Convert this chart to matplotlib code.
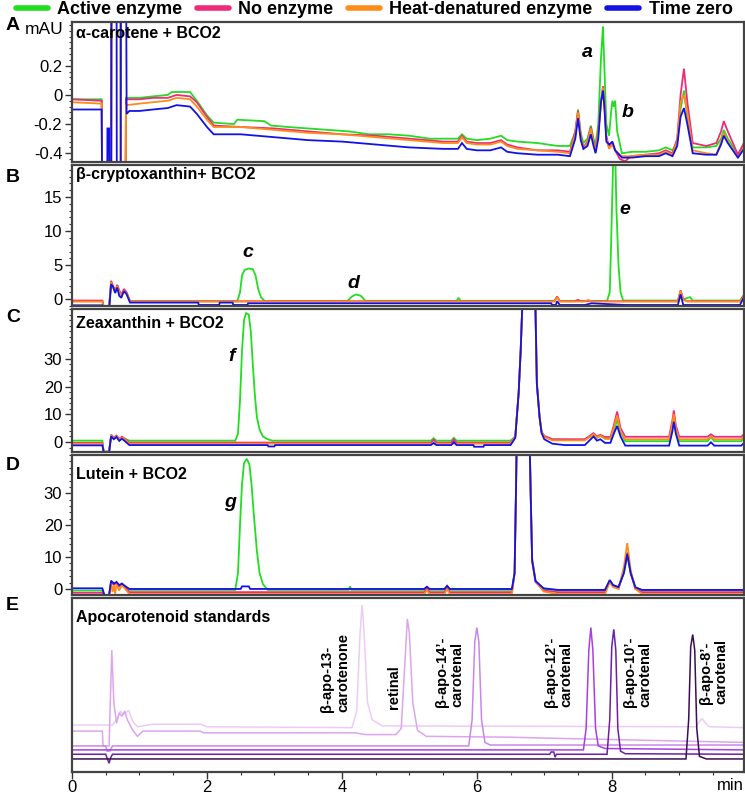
import numpy as np
import matplotlib
matplotlib.use("Agg")
import matplotlib.pyplot as plt
from matplotlib.lines import Line2D
from matplotlib.ticker import AutoMinorLocator, MultipleLocator

plt.rcParams['font.family'] = ['Liberation Sans', 'DejaVu Sans']

# ---- legend / series names and colours ----
series_names = ["Active enzyme", "No enzyme", "Heat-denatured enzyme", "Time zero"]
series_colors = ["#22dd22", "#ee2a7b", "#ff8c1a", "#1212e6"]

# ---- panel A: alpha-carotene + BCO2 (time in min, signal in mAU) ----
A_active = [(0, -0.03), (0.44, -0.03), (0.45, -1), (0.58, -1), (0.585, 1), (0.72, 1), (0.725, -1), (0.79, -1),
            (0.80, -0.02), (1.0, -0.02), (1.2, -0.01), (1.42, 0.0), (1.48, 0.02), (1.75, 0.02), (1.85, -0.04),
            (2.0, -0.14), (2.1, -0.19), (2.4, -0.20), (2.45, -0.17), (2.85, -0.18), (2.95, -0.21), (3.2, -0.22),
            (3.5, -0.23), (3.8, -0.24), (4.1, -0.25), (4.4, -0.27), (4.7, -0.27), (5.0, -0.28), (5.3, -0.30),
            (5.6, -0.30), (5.72, -0.30), (5.78, -0.27), (5.85, -0.30), (6.0, -0.31), (6.2, -0.30), (6.36, -0.28),
            (6.45, -0.31), (6.6, -0.32), (6.9, -0.33), (7.2, -0.35), (7.38, -0.35), (7.46, -0.25), (7.5, -0.10),
            (7.54, -0.26), (7.58, -0.33), (7.64, -0.30), (7.69, -0.21), (7.73, -0.30), (7.76, -0.34), (7.80, -0.2),
            (7.84, 0.25), (7.87, 0.47), (7.89, 0.2), (7.92, -0.2), (7.96, -0.28), (7.99, -0.12), (8.01, -0.04),
            (8.03, -0.08), (8.05, -0.04), (8.08, -0.25), (8.15, -0.40), (8.3, -0.39), (8.5, -0.39), (8.7, -0.38),
            (8.8, -0.36), (8.9, -0.38), (8.97, -0.32), (9.02, -0.1), (9.07, 0.03), (9.12, -0.15), (9.2, -0.36),
            (9.4, -0.36), (9.55, -0.35), (9.62, -0.30), (9.66, -0.24), (9.72, -0.30), (9.87, -0.41), (9.96, -0.33)]
A_noenz = [(0, -0.03), (0.44, -0.04), (0.45, -1), (0.58, -1), (0.585, 1), (0.72, 1), (0.725, -1), (0.79, -1),
           (0.80, -0.03), (1.0, -0.03), (1.2, -0.02), (1.42, -0.02), (1.55, 0.0), (1.75, -0.01), (1.85, -0.05),
           (2.0, -0.15), (2.1, -0.21), (2.5, -0.22), (3.0, -0.23), (3.5, -0.25), (4.0, -0.27), (4.5, -0.28),
           (5.0, -0.30), (5.5, -0.32), (5.72, -0.32), (5.78, -0.28), (5.85, -0.32), (6.0, -0.33), (6.2, -0.33),
           (6.36, -0.31), (6.45, -0.34), (6.6, -0.36), (6.9, -0.38), (7.2, -0.38), (7.38, -0.39), (7.46, -0.25),
           (7.5, -0.11), (7.54, -0.28), (7.58, -0.36), (7.64, -0.32), (7.69, -0.22), (7.73, -0.32), (7.76, -0.38),
           (7.80, -0.25), (7.84, -0.05), (7.87, 0.06), (7.89, -0.05), (7.92, -0.28), (7.96, -0.36), (8.01, -0.33),
           (8.05, -0.38), (8.12, -0.44), (8.2, -0.455), (8.28, -0.42), (8.5, -0.41), (8.7, -0.40), (8.8, -0.38),
           (8.9, -0.40), (8.97, -0.3), (9.02, 0.0), (9.07, 0.18), (9.12, -0.05), (9.2, -0.33), (9.4, -0.35),
           (9.55, -0.33), (9.62, -0.25), (9.66, -0.18), (9.72, -0.25), (9.87, -0.41), (9.96, -0.33)]
A_heat = [(0, -0.05), (0.44, -0.06), (0.45, -1), (0.58, -1), (0.585, 1), (0.72, 1), (0.725, -1), (0.79, -1),
          (0.80, -0.07), (1.0, -0.06), (1.2, -0.05), (1.42, -0.04), (1.55, -0.02), (1.75, -0.03), (1.85, -0.08),
          (2.0, -0.17), (2.1, -0.22), (2.5, -0.22), (3.0, -0.24), (3.5, -0.26), (4.0, -0.27), (4.5, -0.29),
          (5.0, -0.31), (5.5, -0.33), (5.72, -0.33), (5.78, -0.29), (5.85, -0.33), (6.0, -0.34), (6.2, -0.34),
          (6.36, -0.32), (6.45, -0.35), (6.6, -0.37), (6.9, -0.38), (7.2, -0.39), (7.38, -0.40), (7.46, -0.27),
          (7.5, -0.12), (7.54, -0.29), (7.58, -0.37), (7.64, -0.33), (7.69, -0.23), (7.73, -0.33), (7.76, -0.39),
          (7.80, -0.27), (7.84, -0.05), (7.87, 0.05), (7.89, -0.06), (7.92, -0.30), (7.96, -0.37), (8.01, -0.34),
          (8.05, -0.38), (8.15, -0.42), (8.3, -0.42), (8.5, -0.41), (8.7, -0.41), (8.8, -0.39), (8.9, -0.41),
          (8.97, -0.32), (9.02, -0.05), (9.07, 0.0), (9.12, -0.12), (9.2, -0.38), (9.4, -0.40), (9.55, -0.41),
          (9.62, -0.32), (9.66, -0.26), (9.72, -0.32), (9.87, -0.43), (9.96, -0.36)]
A_tzero = [(0, -0.10), (0.44, -0.10), (0.45, -1), (0.52, -1), (0.525, -0.23), (0.55, -0.23), (0.555, -1),
           (0.58, -1), (0.585, 1), (0.66, 1), (0.665, -1), (0.72, -1), (0.725, 1), (0.80, 1), (0.81, -0.13),
           (0.85, -0.11), (1.0, -0.11), (1.2, -0.10), (1.42, -0.09), (1.55, -0.07), (1.75, -0.08), (1.85, -0.13),
           (2.0, -0.22), (2.1, -0.27), (2.5, -0.27), (3.0, -0.29), (3.5, -0.31), (4.0, -0.32), (4.5, -0.34),
           (5.0, -0.36), (5.5, -0.37), (5.72, -0.37), (5.78, -0.33), (5.85, -0.37), (6.0, -0.38), (6.2, -0.38),
           (6.36, -0.36), (6.45, -0.39), (6.6, -0.40), (6.9, -0.41), (7.2, -0.41), (7.38, -0.42), (7.46, -0.30),
           (7.5, -0.16), (7.54, -0.31), (7.58, -0.37), (7.64, -0.35), (7.69, -0.27), (7.73, -0.35), (7.76, -0.40),
           (7.80, -0.30), (7.84, -0.05), (7.87, 0.03), (7.89, -0.08), (7.92, -0.32), (7.96, -0.34), (8.01, -0.32),
           (8.05, -0.38), (8.15, -0.43), (8.3, -0.43), (8.5, -0.42), (8.7, -0.42), (8.8, -0.40), (8.9, -0.42),
           (8.97, -0.35), (9.02, -0.15), (9.07, -0.09), (9.12, -0.2), (9.2, -0.40), (9.4, -0.41), (9.55, -0.41),
           (9.62, -0.34), (9.66, -0.28), (9.72, -0.33), (9.87, -0.43), (9.96, -0.37)]

# ---- panel B: beta-cryptoxanthin + BCO2 ----
B_active = [(0, -0.3), (0.45, -0.3), (0.47, -1.2), (0.55, -1.2), (0.58, 2.4), (0.61, 1.8), (0.64, 1.0), (0.67, 2.0),
            (0.70, 1.2), (0.73, 0.5), (0.77, 1.4), (0.81, 0.9), (0.86, -0.3), (2.45, -0.3), (2.49, 1.0), (2.52, 3.5),
            (2.56, 4.3), (2.62, 4.5), (2.68, 4.4), (2.72, 3.5), (2.76, 1.5), (2.80, 0.3), (2.86, -0.3), (4.08, -0.3),
            (4.15, 0.4), (4.21, 0.7), (4.28, 0.5), (4.35, -0.25), (5.70, -0.25), (5.73, 0.2), (5.76, -0.25),
            (7.15, -0.25), (7.19, 0.3), (7.23, -0.25), (7.93, -0.25), (7.97, 1.0), (7.99, 8), (8.01, 16), (8.03, 24),
            (8.05, 22), (8.07, 13), (8.10, 5), (8.13, 1), (8.17, -0.2), (8.98, -0.2), (9.02, 1.0), (9.06, 0.0),
            (9.16, 0.3), (9.2, -0.2), (9.9, -0.2), (9.96, 0.6)]
B_noenz = [(0, -0.2), (0.45, -0.2), (0.47, -1.2), (0.55, -1.2), (0.58, 2.7), (0.61, 1.9), (0.64, 1.2), (0.67, 2.1),
           (0.70, 1.3), (0.73, 0.6), (0.77, 1.5), (0.81, 1.0), (0.86, -0.3), (7.15, -0.3), (7.19, 0.4), (7.23, -0.3),
           (7.45, -0.3), (7.5, -0.1), (7.55, -0.3), (8.98, -0.3), (9.02, 1.3), (9.06, 0.0), (9.12, -0.3),
           (9.9, -0.3), (9.96, 0.6)]
B_heat = [(0, -0.35), (0.45, -0.35), (0.47, -1.2), (0.55, -1.2), (0.58, 2.5), (0.61, 1.7), (0.64, 1.1), (0.67, 1.9),
          (0.70, 1.1), (0.73, 0.4), (0.77, 1.3), (0.81, 0.8), (0.86, -0.35), (7.15, -0.35), (7.19, 0.3),
          (7.23, -0.35), (7.6, -0.35), (7.65, -0.1), (7.7, -0.35), (8.98, -0.35), (9.02, 1.2), (9.06, -0.1),
          (9.12, -0.35), (9.9, -0.35), (9.96, 0.4)]
B_tzero = [(0, -0.9), (0.45, -0.9), (0.47, -1.5), (0.55, -1.5), (0.58, 2.2), (0.61, 1.8), (0.64, 0.9), (0.67, 1.7),
           (0.70, 0.5), (0.73, 0.2), (0.77, 1.2), (0.81, 0.7), (0.86, -0.5), (1.87, -0.5), (1.88, -0.85),
           (2.18, -0.85), (2.19, -0.5), (2.38, -0.5), (2.39, -0.85), (2.6, -0.85), (2.61, -0.6), (7.1, -0.6),
           (7.12, -0.85), (7.17, -0.85), (7.19, -0.3), (7.23, -0.85), (7.6, -0.85), (7.7, -0.6), (8.2, -0.85),
           (8.98, -0.85), (9.02, 0.7), (9.06, -0.85), (9.9, -0.85), (9.96, 0.3)]

# ---- panel C: zeaxanthin + BCO2 ----
C_active = [(0, 0.5), (0.45, 0.5), (0.47, -3.5), (0.55, -3.5), (0.58, 2.5), (0.62, 1.5), (0.66, 2.2), (0.70, 1.0),
            (0.74, 1.8), (0.78, 1.2), (0.85, 0.5), (2.42, 0.5), (2.46, 3), (2.49, 15), (2.52, 33), (2.55, 44),
            (2.58, 46.5), (2.62, 46), (2.65, 40), (2.68, 28), (2.71, 17), (2.74, 9), (2.78, 4.5), (2.83, 2),
            (2.9, 1), (2.97, 0.5), (5.32, 0.5), (5.36, 1.4), (5.40, 0.5), (5.62, 0.5), (5.66, 1.5), (5.70, 0.5),
            (6.5, 0.5), (6.57, 2), (6.62, 17.7), (6.65, 33), (6.69, 60), (6.86, 60), (6.89, 21), (6.93, 9),
            (6.96, 3.7), (7.0, 2), (7.12, 0.9), (7.6, 0.8), (7.73, 2.6), (7.78, 1.5), (7.83, 2.2), (7.9, 1.2),
            (7.98, 1.2), (8.03, 4), (8.08, 8), (8.13, 3.5), (8.2, 0.3), (8.85, 0.3), (8.9, 6), (8.92, 9),
            (8.95, 5), (9.0, 0.3), (9.42, 0.3), (9.47, 1.8), (9.52, 0.3), (9.92, 0.3), (9.96, 1.8)]
C_noenz = [(0, -0.3), (0.45, -0.3), (0.47, -3.5), (0.55, -3.5), (0.58, 2.6), (0.62, 1.6), (0.66, 2.3), (0.70, 1.1),
           (0.74, 1.9), (0.78, 1.2), (0.85, -0.2), (5.32, -0.2), (5.36, 0.8), (5.40, -0.2), (5.62, -0.2),
           (5.66, 1.0), (5.70, -0.2), (6.5, -0.2), (6.57, 2), (6.62, 17.7), (6.65, 33), (6.69, 60), (6.86, 60),
           (6.89, 21), (6.93, 9), (6.96, 3.7), (7.0, 2.2), (7.12, 1.0), (7.6, 1.0), (7.73, 3.2), (7.78, 2.0),
           (7.83, 2.6), (7.9, 1.8), (7.98, 1.8), (8.03, 6), (8.08, 11), (8.13, 5), (8.2, 1.9), (8.85, 1.9),
           (8.9, 8), (8.92, 11.4), (8.95, 6), (9.0, 1.9), (9.42, 1.9), (9.47, 2.8), (9.52, 1.9), (9.92, 1.9),
           (9.96, 2.8)]
C_heat = [(0, -0.6), (0.45, -0.6), (0.47, -3.5), (0.55, -3.5), (0.58, 2.3), (0.62, 1.4), (0.66, 2.0), (0.70, 0.9),
          (0.74, 1.6), (0.78, 1.0), (0.85, -0.6), (6.5, -0.6), (6.57, 2), (6.62, 17.7), (6.65, 33), (6.69, 60),
          (6.86, 60), (6.89, 21), (6.93, 9), (6.96, 3.7), (7.0, 1.8), (7.12, 0.6), (7.6, 0.6), (7.73, 2.8),
          (7.78, 1.6), (7.83, 2.3), (7.9, 1.2), (7.98, 1.2), (8.03, 5), (8.08, 9.6), (8.13, 4), (8.2, 1.0),
          (8.85, 1.0), (8.9, 7), (8.92, 10), (8.95, 5), (9.0, 1.0), (9.42, 1.0), (9.47, 2.0), (9.52, 1.0),
          (9.92, 1.0), (9.96, 2.0)]
C_tzero = [(0, -1.2), (0.45, -1.2), (0.47, -3.6), (0.55, -3.6), (0.58, 2.0), (0.62, 1.0), (0.66, 1.8), (0.70, 0.4),
           (0.74, 1.2), (0.78, 0.4), (0.85, -1.1), (2.9, -1.1), (2.91, -1.6), (3.0, -1.6), (3.01, -1.1),
           (5.32, -1.1), (5.36, -0.3), (5.40, -1.1), (5.62, -1.1), (5.66, 0.0), (5.70, -1.1), (5.95, -1.1),
           (5.96, -1.7), (6.1, -1.7), (6.11, -1.1), (6.5, -1.1), (6.57, 1.5), (6.62, 17.7), (6.65, 33), (6.69, 60),
           (6.86, 60), (6.89, 21), (6.93, 9), (6.96, 3.2), (7.0, 1.0), (7.12, -0.6), (7.3, -1.1), (7.6, -1.1),
           (7.73, 2.0), (7.78, 0.5), (7.83, 1.0), (7.9, -0.3), (7.98, -0.3), (8.03, 3), (8.08, 5.8), (8.13, 2),
           (8.2, -1.3), (8.85, -1.3), (8.9, 4), (8.92, 7.3), (8.95, 3), (9.0, -1.3), (9.42, -1.3), (9.47, -0.1),
           (9.52, -1.3), (9.92, -1.3), (9.96, -0.3)]

# ---- panel D: lutein + BCO2 ----
D_active = [(0, -0.5), (0.45, -0.5), (0.48, -1.9), (0.55, -1.9), (0.58, 2.3), (0.62, 1.5), (0.66, 2.0), (0.70, 1.0),
            (0.74, 1.6), (0.78, 0.8), (0.85, -0.3), (2.42, -0.3), (2.46, 5), (2.49, 20), (2.52, 33), (2.55, 39.5),
            (2.59, 40.8), (2.63, 39), (2.66, 33), (2.70, 22), (2.74, 12), (2.78, 5), (2.83, 1.5), (2.9, -0.3),
            (4.1, -0.3), (4.12, 0.8), (4.14, -0.3), (5.22, -0.3), (5.26, 0.5), (5.3, -0.3), (5.52, -0.3),
            (5.56, 0.8), (5.6, -0.3), (6.52, -0.3), (6.56, 5), (6.58, 30), (6.6, 60), (6.77, 60), (6.8, 28),
            (6.82, 8.9), (6.87, 2.5), (6.99, 0.0), (7.2, -0.4), (7.9, -0.4), (7.97, 2.6), (8.02, 1.2), (8.1, 0.5),
            (8.18, 5), (8.23, 10.5), (8.28, 5), (8.35, 0.5), (8.45, -0.4), (9.96, -0.4)]
D_noenz = [(0, -1.2), (0.45, -1.2), (0.48, -1.9), (0.55, -1.9), (0.58, 2.2), (0.62, 1.3), (0.66, 1.8), (0.70, 0.8),
           (0.74, 1.4), (0.78, 0.6), (0.85, -1.0), (5.22, -1.0), (5.26, 0.0), (5.3, -1.0), (5.52, -1.0),
           (5.56, 0.3), (5.6, -1.0), (6.52, -1.0), (6.56, 5), (6.58, 30), (6.6, 60), (6.77, 60), (6.8, 28),
           (6.82, 8.9), (6.87, 2.2), (6.99, -0.5), (7.2, -1.0), (7.9, -1.0), (7.97, 2.3), (8.02, 0.8), (8.1, 0.2),
           (8.18, 5.5), (8.23, 11.5), (8.28, 5), (8.35, 0.0), (8.45, -1.0), (9.96, -1.0)]
D_heat = [(0, -1.9), (0.45, -1.9), (0.48, -1.9), (0.55, -1.9), (0.58, 1.8), (0.6, -1.0), (0.62, 1.2), (0.64, -1.5),
          (0.66, 1.5), (0.70, -0.5), (0.74, 1.2), (0.78, 0.2), (0.85, -1.6), (5.22, -1.6), (5.26, -0.4),
          (5.3, -1.6), (5.52, -1.6), (5.56, 0.0), (5.6, -1.6), (6.52, -1.6), (6.56, 5), (6.58, 30), (6.6, 60),
          (6.77, 60), (6.8, 28), (6.82, 9.5), (6.87, 2.5), (6.99, -0.8), (7.2, -1.6), (7.9, -1.6), (7.97, 2.2),
          (8.02, 0.6), (8.1, 0.0), (8.18, 7), (8.23, 14.4), (8.28, 6), (8.35, 0.0), (8.45, -1.6), (9.96, -1.6)]
D_tzero = [(0, 0.2), (0.45, 0.2), (0.48, -1.9), (0.55, -1.9), (0.58, 2.6), (0.62, 1.7), (0.66, 2.2), (0.70, 1.2),
           (0.74, 1.7), (0.78, 1.0), (0.85, 0.0), (2.5, 0.0), (2.52, 0.8), (2.62, 0.8), (2.64, 0.0), (5.22, 0.0),
           (5.26, 0.7), (5.3, 0.0), (5.52, 0.0), (5.56, 1.0), (5.6, 0.0), (6.52, 0.0), (6.56, 5), (6.58, 30),
           (6.6, 60), (6.77, 60), (6.8, 28), (6.82, 8.9), (6.87, 2.5), (6.99, 0.2), (7.2, -0.3), (7.9, -0.3),
           (7.97, 2.8), (8.02, 1.2), (8.1, 0.6), (8.18, 5), (8.23, 11), (8.28, 5), (8.35, 0.5), (8.45, -0.3),
           (9.96, -0.3)]

# ---- panel E: apocarotenoid standards (arbitrary units, stacked) ----
E_names = ["β-apo-13-\ncarotenone", "retinal", "β-apo-14’-\ncarotenal",
           "β-apo-12’-\ncarotenal", "β-apo-10’-\ncarotenal", "β-apo-8’-\ncarotenal"]
E_label_t = [3.90, 4.77, 5.60, 7.21, 8.38, 9.51]
E_label_y = [34.7, 36.4, 37.5, 37.5, 37.5, 39.0]
E_colors = ["#ecccf7", "#dba6ef", "#c987e8", "#a640e0", "#6e1fa3", "#3b0d52"]
E_apo13 = [(0, 27), (0.6, 27), (0.66, 30), (0.72, 35), (0.76, 33), (0.8, 34), (0.84, 35.5), (0.9, 29), (0.97, 26),
           (1.05, 26.5), (1.2, 27.5), (1.9, 27.5), (2.0, 26), (4.15, 25.5), (4.22, 35), (4.27, 80), (4.30, 96),
           (4.33, 80), (4.38, 40), (4.45, 30), (4.6, 26.5), (9.25, 26), (9.3, 29), (9.34, 30.7), (9.39, 28),
           (9.45, 26), (9.96, 25.5)]
E_retinal = [(0, 23.5), (0.45, 23.5), (0.46, 15), (0.55, 15), (0.56, 30), (0.59, 70), (0.62, 40), (0.66, 28),
             (0.70, 34), (0.74, 32), (0.78, 35), (0.82, 30), (0.9, 24), (0.97, 20.5), (1.05, 23.5), (1.9, 23.5),
             (1.95, 22.5), (4.2, 22.5), (4.35, 21.5), (4.8, 21.5), (4.88, 25), (4.93, 60), (4.97, 88), (5.0, 80),
             (5.05, 40), (5.12, 24), (5.25, 20.5), (6.5, 20), (7.0, 19.5), (9.96, 17)]
E_apo14 = [(0, 15), (0.5, 15), (0.52, 12), (0.56, 12), (0.6, 15), (5.88, 15), (5.93, 30), (5.97, 75), (6.0, 83),
           (6.03, 75), (6.07, 30), (6.12, 17), (6.2, 15.5), (9.96, 15.5)]
E_apo12 = [(0, 12.7), (0.5, 12.7), (7.58, 12.7), (7.62, 25), (7.66, 70), (7.69, 83), (7.72, 70), (7.76, 25),
           (7.8, 15), (7.9, 13.5), (9.96, 12.7)]
E_apo10 = [(0, 10.2), (0.5, 10.2), (0.52, 8), (0.55, 5), (0.57, 8), (0.6, 10.2), (7.08, 10.2), (7.1, 11.5),
           (7.14, 11.5), (7.16, 8.5), (7.18, 10.2), (7.93, 10.2), (7.97, 30), (8.0, 72), (8.03, 82), (8.06, 70),
           (8.09, 25), (8.13, 12), (8.2, 10.5), (9.96, 10.2)]
E_apo8 = [(0, 7.5), (0.5, 7.5), (9.1, 7.5), (9.14, 30), (9.17, 72), (9.2, 79), (9.23, 70), (9.26, 25), (9.3, 9),
          (9.4, 7.5), (9.96, 7.5)]

# peak letters (time, height) per panel
peak_labels = {
    "A": [("a", 7.64, 0.29), ("b", 8.23, -0.12)],
    "B": [("c", 2.60, 6.8), ("d", 4.17, 2.35), ("e", 8.19, 13.1)],
    "C": [("f", 2.37, 30.7)],
    "D": [("g", 2.34, 27.0)],
}

panels = [
    ("A", "α-carotene + BCO2", [A_active, A_noenz, A_heat, A_tzero], (-0.46, 0.5), [-0.4, -0.2, 0, 0.2], 0.92),
    ("B", "β-cryptoxanthin+ BCO2", [B_active, B_noenz, B_heat, B_tzero], (-1.0, 19.7), [0, 5, 10, 15], 0.93),
    ("C", "Zeaxanthin + BCO2", [C_active, C_noenz, C_heat, C_tzero], (-3.6, 48), [0, 10, 20, 30], 0.90),
    ("D", "Lutein + BCO2", [D_active, D_noenz, D_heat, D_tzero], (-1.9, 42), [0, 10, 20, 30], 0.86),
]

# axes boxes in pixels (top, bottom) for a 745x795 figure
W, H = 745, 795
x0, x1 = 72, 744
boxes = {"A": (22, 162), "B": (165, 306), "C": (309, 452), "D": (455, 595), "E": (598, 772)}
letter_y = {"A": 25, "B": 177, "C": 318, "D": 465, "E": 605}

fig = plt.figure(figsize=(W / 100, H / 100), dpi=100)
XMAX = 9.96


def make_axes(key):
    top, bot = boxes[key]
    ax = fig.add_axes([x0 / W, 1 - bot / H, (x1 - x0) / W, (bot - top) / H])
    for s in ax.spines.values():
        s.set_color("#444444")
        s.set_linewidth(1.6)
    ax.set_xlim(0, XMAX)
    ax.tick_params(axis="both", which="major", direction="out", length=5, width=1, labelsize=12, pad=2,
                   color="#333333")
    ax.tick_params(axis="x", which="major", pad=1)
    ax.tick_params(axis="both", which="minor", direction="out", length=2.5, width=0.8, color="#333333")
    fig.text(6 / W, 1 - letter_y[key] / H, key, fontsize=14, fontweight="bold", ha="left", va="center")
    return ax


def draw_trace(ax, pairs, color, lw=1.3):
    t, v = np.array(pairs).T
    ax.plot(t, v, color=color, lw=lw, solid_joinstyle="miter")


for key, title, traces, ylim, yticks, title_y in panels:
    ax = make_axes(key)
    for pairs, col in zip(traces, series_colors):
        draw_trace(ax, pairs, col)
    ax.set_ylim(*ylim)
    ax.set_yticks(yticks)
    ax.set_yticklabels([f"{v:g}" for v in yticks])
    ax.yaxis.set_minor_locator(AutoMinorLocator(5))
    ax.set_xticks([])
    ax.text(0.006, title_y, title, transform=ax.transAxes, fontsize=11.5, fontweight="bold",
            ha="left", va="center")
    for lab, t, v in peak_labels[key]:
        ax.text(t, v, lab, fontsize=14, fontweight="bold", fontstyle="italic", ha="center", va="center")

fig.text(44 / W, 1 - 29 / H, "mAU", fontsize=12.5, ha="center", va="center")

# panel E
axE = make_axes("E")
for pairs, col in zip([E_apo13, E_retinal, E_apo14, E_apo12, E_apo10, E_apo8], E_colors):
    draw_trace(axE, pairs, col, lw=1.1)
axE.set_ylim(0, 100)
axE.set_yticks([])
axE.xaxis.set_minor_locator(MultipleLocator(0.5))
axE.set_xticks([0, 2, 4, 6, 8])
axE.set_xticklabels(["0", "2", "4", "6", "8"])
axE.text(0.006, 0.886, "Apocarotenoid standards", transform=axE.transAxes, fontsize=11.5,
         fontweight="bold", ha="left", va="center")
for name, t, y in zip(E_names, E_label_t, E_label_y):
    axE.text(t, y, name, rotation=90, ha="center", va="bottom", multialignment="left",
             fontsize=10.5, fontweight="bold", linespacing=1.15)
axE.text(1.0, -0.075, "min", transform=axE.transAxes, fontsize=12, ha="right", va="center")

# legend across the top
handles = [Line2D([0], [0], color=c, lw=4, solid_capstyle="round") for c in series_colors]
fig.legend(handles, series_names, loc="center", bbox_to_anchor=(0.502, 1 - 10 / H), ncol=4, frameon=False,
           prop={"weight": "bold", "size": 13}, handlelength=1.8, handletextpad=0.5, columnspacing=0.8,
           borderpad=0, borderaxespad=0)

fig.savefig("out.png", dpi=100)
